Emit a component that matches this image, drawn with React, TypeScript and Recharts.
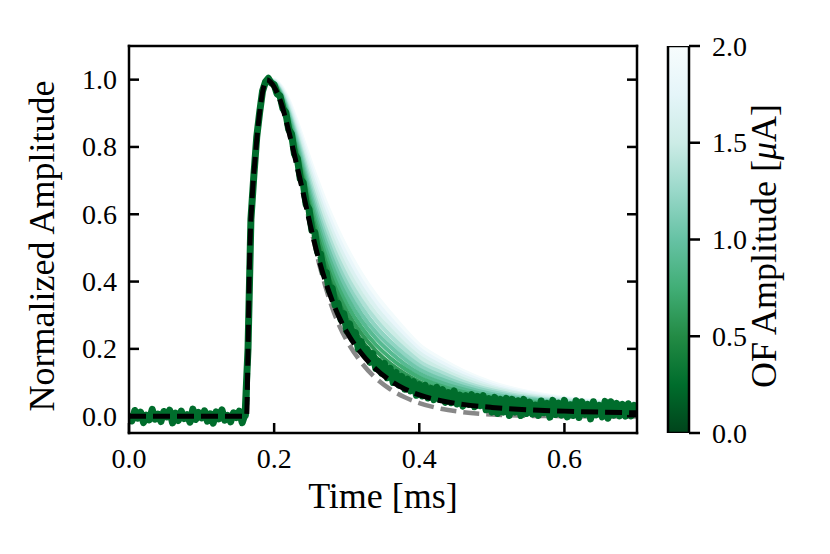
import React from "react";
import { LineChart, Line, XAxis, YAxis, BarChart, Bar } from "recharts";

// sample times [ms] shared by the smooth traces and the two fits
const TIME = [
  0, 0.05, 0.1, 0.15, 0.162, 0.164, 0.166, 0.17, 0.174, 0.178, 0.182,
  0.186, 0.19, 0.195, 0.2, 0.21, 0.22, 0.23, 0.24, 0.25, 0.26, 0.27, 0.28, 0.29, 0.3,
  0.32, 0.34, 0.36, 0.38, 0.4, 0.43, 0.46, 0.5, 0.55, 0.6, 0.65, 0.7,
];

// baseline + leading edge, the same for every trace
const RISE = [0, 0, 0, 0, 0, 0.2, 0.45, 0.66, 0.77, 0.865, 0.935];

// black dashed template
const TEMPLATE = [...RISE,
  0.982, 1.0, 0.993, 0.978, 0.928, 0.848, 0.757, 0.663, 0.566, 0.478, 0.405, 0.343, 0.292, 0.25,
  0.187, 0.14, 0.106, 0.081, 0.063, 0.046, 0.035, 0.026, 0.019, 0.015, 0.012, 0.01];

// grey dashed fit (faster fall)
const FAST_FIT = [...RISE,
  0.982, 1.0, 0.993, 0.978, 0.928, 0.848, 0.757, 0.663, 0.566, 0.47, 0.39, 0.322, 0.268, 0.225,
  0.16, 0.113, 0.08, 0.056, 0.039, 0.022, 0.012, 0.005, 0.001, 0, -0.001, -0.001];

// averaged pulses, one per OF amplitude bin
const TRACE_045 = [...RISE, 0.984, 0.999, 0.995, 0.984, 0.939, 0.867, 0.782, 0.693, 0.601, 0.516, 0.445, 0.384, 0.333, 0.291, 0.226, 0.176, 0.14, 0.111, 0.09, 0.07, 0.056, 0.044, 0.035, 0.03, 0.027, 0.024];
const TRACE_060 = [...RISE, 0.983, 0.998, 0.996, 0.985, 0.943, 0.874, 0.792, 0.706, 0.616, 0.534, 0.464, 0.404, 0.354, 0.312, 0.246, 0.195, 0.156, 0.126, 0.102, 0.08, 0.064, 0.049, 0.038, 0.032, 0.028, 0.026];
const TRACE_075 = [...RISE, 0.982, 0.997, 0.996, 0.987, 0.947, 0.882, 0.802, 0.718, 0.632, 0.553, 0.484, 0.425, 0.375, 0.333, 0.265, 0.213, 0.173, 0.141, 0.115, 0.09, 0.072, 0.055, 0.042, 0.035, 0.03, 0.027];
const TRACE_090 = [...RISE, 0.981, 0.996, 0.996, 0.988, 0.951, 0.889, 0.812, 0.731, 0.648, 0.571, 0.504, 0.446, 0.396, 0.354, 0.285, 0.232, 0.19, 0.155, 0.127, 0.1, 0.08, 0.06, 0.046, 0.037, 0.032, 0.028];
const TRACE_105 = [...RISE, 0.98, 0.995, 0.997, 0.99, 0.955, 0.896, 0.823, 0.744, 0.664, 0.589, 0.524, 0.467, 0.417, 0.375, 0.305, 0.25, 0.207, 0.17, 0.139, 0.11, 0.088, 0.066, 0.05, 0.04, 0.034, 0.03];
const TRACE_120 = [...RISE, 0.979, 0.994, 0.997, 0.991, 0.959, 0.903, 0.833, 0.757, 0.679, 0.607, 0.543, 0.487, 0.438, 0.395, 0.325, 0.268, 0.223, 0.184, 0.151, 0.12, 0.095, 0.072, 0.053, 0.042, 0.035, 0.031];
const TRACE_135 = [...RISE, 0.978, 0.993, 0.997, 0.993, 0.963, 0.91, 0.843, 0.77, 0.695, 0.625, 0.563, 0.508, 0.459, 0.416, 0.345, 0.287, 0.24, 0.199, 0.163, 0.13, 0.103, 0.077, 0.057, 0.045, 0.037, 0.032];
const TRACE_150 = [...RISE, 0.977, 0.992, 0.997, 0.994, 0.967, 0.918, 0.853, 0.782, 0.711, 0.644, 0.583, 0.529, 0.48, 0.437, 0.364, 0.305, 0.257, 0.213, 0.176, 0.14, 0.111, 0.083, 0.061, 0.047, 0.039, 0.033];
const TRACE_165 = [...RISE, 0.976, 0.991, 0.998, 0.996, 0.971, 0.925, 0.863, 0.795, 0.726, 0.662, 0.602, 0.549, 0.501, 0.458, 0.384, 0.324, 0.273, 0.228, 0.188, 0.15, 0.119, 0.088, 0.064, 0.05, 0.04, 0.035];
const TRACE_180 = [...RISE, 0.975, 0.99, 0.998, 0.997, 0.975, 0.932, 0.873, 0.808, 0.742, 0.68, 0.622, 0.57, 0.522, 0.479, 0.404, 0.342, 0.29, 0.242, 0.2, 0.16, 0.127, 0.094, 0.068, 0.052, 0.042, 0.036];
const TRACE_195 = [...RISE, 0.974, 0.989, 0.998, 0.999, 0.979, 0.939, 0.883, 0.821, 0.758, 0.698, 0.642, 0.591, 0.543, 0.5, 0.424, 0.36, 0.307, 0.257, 0.212, 0.17, 0.135, 0.1, 0.072, 0.055, 0.044, 0.037];

const TRACE_AMPS = [0.45, 0.6, 0.75, 0.9, 1.05, 1.2, 1.35, 1.5, 1.65, 1.8, 1.95];
const TRACES = [TRACE_045, TRACE_060, TRACE_075, TRACE_090, TRACE_105, TRACE_120, TRACE_135, TRACE_150, TRACE_165, TRACE_180, TRACE_195];

// lowest bin: raw noisy pulse, sampled every 4 us
const NOISY_AMP = 0.25;
const NOISY_DT = 0.004;
const NOISY_V = [
  0.008, -0.014, 0.017, -0.006, 0.012, -0.019, 0.003, -0.011, 0.02, -0.009,
  0.006, -0.016, 0.014, -0.002, 0.018, -0.02, 0.009, -0.013, 0.015, -0.007,
  0.004, -0.018, 0.021, -0.01, 0.011, -0.005, 0.016, -0.015, 0.007, -0.021,
  0.013, -0.008, 0.019, -0.012, 0.002, -0.017, 0.01, -0.004, 0.015, -0.019,
  0.006,
  0.2, 0.585, 0.714, 0.829, 0.902, 0.966, 0.993, 1.004, 0.99, 0.985,
  0.958, 0.952, 0.914, 0.903, 0.852, 0.838, 0.779, 0.766, 0.705, 0.694,
  0.63, 0.615, 0.552, 0.546, 0.487, 0.482, 0.425, 0.426, 0.374, 0.38,
  0.33, 0.335, 0.288, 0.305, 0.254, 0.274, 0.229, 0.248, 0.2, 0.222,
  0.183, 0.198, 0.16, 0.186, 0.142, 0.163, 0.128, 0.157, 0.114, 0.142,
  0.1, 0.13, 0.092, 0.118, 0.08, 0.11, 0.075, 0.103, 0.062, 0.094,
  0.06, 0.092, 0.054, 0.083, 0.049, 0.086, 0.05, 0.079, 0.041, 0.07,
  0.04, 0.075, 0.036, 0.063, 0.03, 0.061, 0.035, 0.064, 0.028, 0.059,
  0.031, 0.061, 0.019, 0.052, 0.012, 0.056, 0.008, 0.05, 0.012, 0.053,
  0.002, 0.05, 0.012, 0.046, 0.002, 0.05, 0.008, 0.042, 0.006, 0.033,
  0.002, 0.045, 0.01, 0.038, -0.003, 0.047, 0.005, 0.039, 0.003, 0.047,
  -0.002, 0.034, 0.002, 0.046, -0.004, 0.043, 0.005, 0.035, -0.008, 0.043,
  0.004, 0.032, -0.002, 0.044, -0.006, 0.043, 0.003, 0.038, 0.001, 0.035,
  0.0, 0.037, 0.001, 0.032, 0.006,
];

const X_DOMAIN = [0, 0.7];
const Y_DOMAIN = [-0.05, 1.1];
const X_TICKS = [0, 0.2, 0.4, 0.6];
const Y_TICKS = [0, 0.2, 0.4, 0.6, 0.8, 1.0];
const CB_RANGE = [0, 2];
const CB_TICKS = [0, 0.5, 1.0, 1.5, 2.0];

// matplotlib BuGn, light -> dark
const BUGN = ["#f7fcfd", "#e5f5f9", "#ccece6", "#99d8c9", "#66c2a4", "#41ae76", "#238b45", "#006d2c", "#00441b"];

const rgb = (h: string) => {
  const n = parseInt(h.slice(1), 16);
  return [(n >> 16) & 255, (n >> 8) & 255, n & 255];
};

// reversed BuGn: 0 uA dark, 2 uA white
const ampColor = (amp: number) => {
  const pos = 1 - Math.min(Math.max(amp / CB_RANGE[1], 0), 1);
  const s = pos * (BUGN.length - 1);
  const i = Math.min(Math.floor(s), BUGN.length - 2);
  const f = s - i;
  const a = rgb(BUGN[i]);
  const b = rgb(BUGN[i + 1]);
  const c = a.map((v, k) => Math.round(v + (b[k] - v) * f));
  return `rgb(${c[0]},${c[1]},${c[2]})`;
};

const toPoints = (ys: number[]) => TIME.map((t, i) => ({ t, v: ys[i] }));
const noisyPoints = NOISY_V.map((v, i) => ({ t: +(i * NOISY_DT).toFixed(3), v }));

const FONT = "'Liberation Serif', 'Times New Roman', serif";
const TICK_FS = 28;
const LABEL_FS = 36;
const LW = 2.5;
const TL = 10; // tick length
const AXIS_LINE = { stroke: "#000", strokeWidth: LW, strokeLinecap: "square" as const };

const fmt = (v: number) => v.toFixed(1);

const label = (x: number, y: number, anchor: "start" | "middle" | "end", v: number) => (
  <text x={x} y={y} textAnchor={anchor} dominantBaseline="central" fontFamily={FONT} fontSize={TICK_FS} fill="#000">
    {fmt(v)}
  </text>
);

// tick marks drawn as small filled rects; tickSize/tickMargin are 0 so (x, y) sits on the spine
const BottomTick = ({ x, y, payload }: any) => (
  <g>
    <rect x={x - LW / 2} y={y - TL} width={LW} height={TL} fill="#000" />
    {label(x, y + 25, "middle", payload.value)}
  </g>
);
const TopTick = ({ x, y }: any) => <rect x={x - LW / 2} y={y} width={LW} height={TL} fill="#000" />;
const LeftTick = ({ x, y, payload }: any) => (
  <g>
    <rect x={x} y={y - LW / 2} width={TL} height={LW} fill="#000" />
    {label(x - 12, y, "end", payload.value)}
  </g>
);
const RightTick = ({ x, y }: any) => <rect x={x - TL} y={y - LW / 2} width={TL} height={LW} fill="#000" />;
const CbTick = ({ x, y, payload }: any) => (
  <g>
    <rect x={x} y={y - LW / 2} width={11} height={LW} fill="#000" />
    {label(x + 23, y, "start", payload.value)}
  </g>
);

const axisCommon = { tickSize: 0, tickMargin: 0, tickLine: false, interval: 0 as const, allowDataOverflow: true };

const PulseChart = () => (
  <LineChart width={830} height={554} margin={{ top: 45, right: 192, bottom: 0, left: 0 }}>
    <XAxis
      dataKey="t" type="number" domain={X_DOMAIN} ticks={X_TICKS} height={121}
      {...axisCommon} axisLine={AXIS_LINE} tick={BottomTick}
      label={{
        content: () => (
          <text x={383} y={496} textAnchor="middle" dominantBaseline="central" fontFamily={FONT} fontSize={LABEL_FS} fill="#000">
            Time [ms]
          </text>
        ),
      }}
    />
    <XAxis
      xAxisId="top" orientation="top" type="number" domain={X_DOMAIN} ticks={X_TICKS} height={1}
      {...axisCommon} axisLine={AXIS_LINE} tick={TopTick}
    />
    <YAxis
      type="number" domain={Y_DOMAIN} ticks={Y_TICKS} width={129}
      {...axisCommon} axisLine={AXIS_LINE} tick={LeftTick}
      label={{
        content: () => (
          <text x={42} y={246} transform="rotate(-90 42 246)" textAnchor="middle" dominantBaseline="central" fontFamily={FONT} fontSize={LABEL_FS} fill="#000">
            Normalized Amplitude
          </text>
        ),
      }}
    />
    <YAxis
      yAxisId="right" orientation="right" type="number" domain={Y_DOMAIN} ticks={Y_TICKS} width={1}
      {...axisCommon} axisLine={AXIS_LINE} tick={RightTick}
    />

    <Line data={toPoints(FAST_FIT)} dataKey="v" type="monotone" stroke="#888888" strokeWidth={4.5}
      strokeDasharray="16 7" dot={false} activeDot={false} isAnimationActive={false} />

    {TRACES.map((ys, i) => ({ ys, amp: TRACE_AMPS[i] }))
      .reverse()
      .map(({ ys, amp }) => (
        <Line key={amp} data={toPoints(ys)} dataKey="v" type="monotone" stroke={ampColor(amp)}
          strokeWidth={4} dot={false} activeDot={false} isAnimationActive={false} />
      ))}

    <Line data={noisyPoints} dataKey="v" type="linear" stroke={ampColor(NOISY_AMP)} strokeWidth={7}
      strokeLinejoin="round" dot={false} activeDot={false} isAnimationActive={false} />

    <Line data={toPoints(TEMPLATE)} dataKey="v" type="monotone" stroke="#000" strokeWidth={5}
      strokeDasharray="17 7" dot={false} activeDot={false} isAnimationActive={false} />
  </LineChart>
);

const CB_DATA = [{ k: "OF", v: CB_RANGE[1] }];

const ColorBar = () => (
  <BarChart width={190} height={554} data={CB_DATA} margin={{ top: 46, right: 0, bottom: 121, left: 28 }} barCategoryGap={0}>
    <defs>
      <linearGradient id="cbGrad" x1="0" y1="1" x2="0" y2="0">
        {BUGN.map((_, k) => (
          <stop key={k} offset={k / (BUGN.length - 1)} stopColor={BUGN[BUGN.length - 1 - k]} />
        ))}
      </linearGradient>
    </defs>
    <XAxis dataKey="k" hide />
    <YAxis
      orientation="right" type="number" domain={CB_RANGE} ticks={CB_TICKS} width={141}
      {...axisCommon} axisLine={false} tick={CbTick}
      label={{
        content: () => (
          <text x={124} y={246} transform="rotate(-90 124 246)" textAnchor="middle" dominantBaseline="central" fontFamily={FONT} fontSize={LABEL_FS} fill="#000">
            OF Amplitude [<tspan fontStyle="italic">μ</tspan>A]
          </text>
        ),
      }}
    />
    <Bar dataKey="v" fill="url(#cbGrad)" stroke="#000" strokeWidth={LW} isAnimationActive={false} />
  </BarChart>
);

export default function App() {
  return (
    <div style={{ position: "absolute", left: 0, top: 0, width: 830, height: 554, background: "#fff" }}>
      <PulseChart />
      <div style={{ position: "absolute", left: 640, top: 0 }}>
        <ColorBar />
      </div>
    </div>
  );
}
